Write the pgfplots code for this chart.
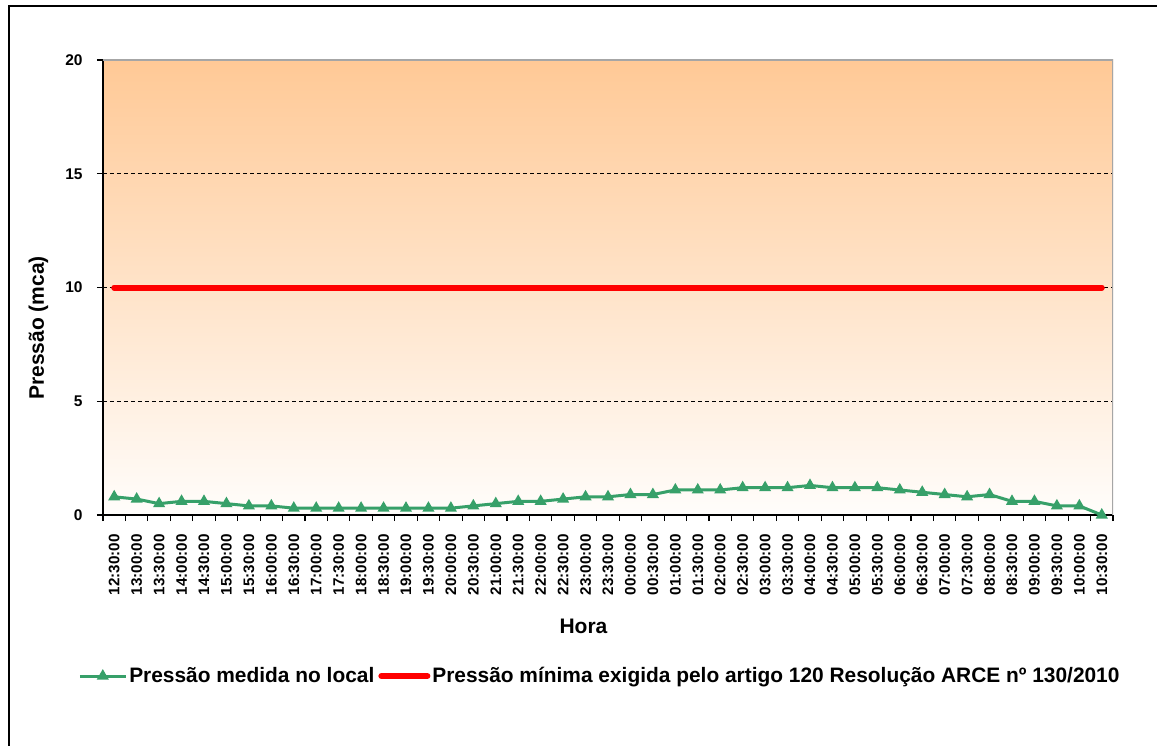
\documentclass[border=0pt]{standalone}
\usepackage{fontspec}
\setmainfont{Liberation Sans}
\usepackage{pgfplots}
\pgfplotsset{compat=1.18}
\definecolor{pgreen}{RGB}{55,160,105}
\definecolor{ptop}{RGB}{255,201,150}
\definecolor{pbot}{RGB}{255,253,251}
\begin{document}
\begin{tikzpicture}
\useasboundingbox (0,0) rectangle (583pt,372.5pt);
\draw[black, line width=1pt] (4.5pt,-1pt) -- (4.5pt,369.5pt) -- (578.5pt,369.5pt);
\begin{axis}[
  at={(51.5pt,115pt)}, anchor=south west,
  width=505pt, height=227.5pt, scale only axis,
  xmin=-0.5, xmax=44.5, ymin=0, ymax=20,
  /pgf/number format/assume math mode=true,
  axis x line*=bottom, axis y line*=left,
  axis line style={-, black, line width=0.8pt},
  axis background/.style={top color=ptop, bottom color=pbot},
  ytick={0,5,10,15,20},
  ymajorgrids, major grid style={black, dashed, line width=0.5pt, dash pattern=on 2pt off 1.5pt},
  xtick={0,...,44},
  xticklabels={12:30:00,13:00:00,13:30:00,14:00:00,14:30:00,15:00:00,15:30:00,16:00:00,16:30:00,17:00:00,17:30:00,18:00:00,18:30:00,19:00:00,19:30:00,20:00:00,20:30:00,21:00:00,21:30:00,22:00:00,22:30:00,23:00:00,23:30:00,00:00:00,00:30:00,01:00:00,01:30:00,02:00:00,02:30:00,03:00:00,03:30:00,04:00:00,04:30:00,05:00:00,05:30:00,06:00:00,06:30:00,07:00:00,07:30:00,08:00:00,08:30:00,09:00:00,09:30:00,10:00:00,10:30:00},
  minor xtick={-0.5,0.5,...,44.5},
  tick align=outside,
  x tick style={draw=none},
  minor x tick style={draw=black, line width=0.6pt},
  minor tick length=3pt,
  y tick style={black, line width=0.6pt},
  major tick length=3pt,
  xticklabel style={font=\fontsize{7.6}{9}\selectfont\bfseries, rotate=90, anchor=east, inner sep=0pt, xshift=-6.5pt},
  yticklabel style={font=\fontsize{7.75}{9}\selectfont\bfseries, inner sep=0pt, xshift=-7pt},
  xlabel={Hora},
  ylabel={Pressão (mca)},
  xlabel style={font=\fontsize{10.5}{12}\selectfont\bfseries, at={(axis description cs:0.4757,-0.244)}, anchor=center},
  ylabel style={font=\fontsize{10.5}{12}\selectfont\bfseries, at={(axis description cs:-0.064,0.411)}, anchor=center, rotate=0},
  legend style={at={(axis description cs:0.492,-0.354)}, anchor=center, draw=none, fill=none,
    legend columns=2, font=\fontsize{10.45}{12}\selectfont\bfseries,
    /tikz/every even column/.append style={column sep=1pt},
    nodes={inner sep=1pt}},
  legend image code/.code={\draw[mark repeat=2,mark phase=2,#1] plot coordinates {(0pt,0pt) (11.5pt,0pt) (23pt,0pt)};},
]
\addplot[color=pgreen, line width=1.5pt, mark=triangle*, mark size=2pt, mark options={solid}] coordinates {
(0,0.8) (1,0.7) (2,0.5) (3,0.6) (4,0.6) (5,0.5) (6,0.4) (7,0.4) (8,0.3) (9,0.3)
(10,0.3) (11,0.3) (12,0.3) (13,0.3) (14,0.3) (15,0.3) (16,0.4) (17,0.5) (18,0.6) (19,0.6)
(20,0.7) (21,0.8) (22,0.8) (23,0.9) (24,0.9) (25,1.1) (26,1.1) (27,1.1) (28,1.2) (29,1.2)
(30,1.2) (31,1.3) (32,1.2) (33,1.2) (34,1.2) (35,1.1) (36,1.0) (37,0.9) (38,0.8) (39,0.9)
(40,0.6) (41,0.6) (42,0.4) (43,0.4) (44,0.0)};
\addlegendentry{Pressão medida no local}
\addplot[color=red, line width=3pt, line cap=round, mark=none] coordinates {(0,10) (44,10)};
\addlegendentry{Pressão mínima exigida pelo artigo 120 Resolução ARCE nº 130/2010}
\draw[gray!70, line width=1pt] (rel axis cs:0,1) -- (rel axis cs:1,1) -- (rel axis cs:1,0);
\end{axis}
\end{tikzpicture}
\end{document}
